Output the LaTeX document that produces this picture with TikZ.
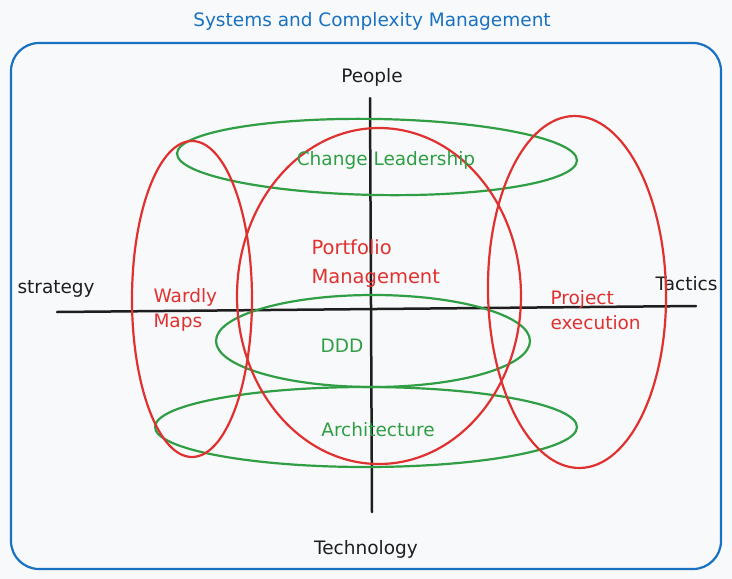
\documentclass[tikz,border=0pt]{standalone}
\usepackage{fontspec}
\setmainfont{DejaVu Sans}
\definecolor{skblue}{HTML}{1971C2}
\definecolor{skgreen}{HTML}{2F9E44}
\definecolor{skred}{HTML}{E03131}
\definecolor{skink}{HTML}{1E1E1E}
\definecolor{skbg}{HTML}{F8F9FA}
\begin{document}
\begin{tikzpicture}[x=1pt, y=-1pt, line join=round, line cap=round,
    font=\fontsize{18.5}{22}\selectfont,
    ring/.style={line width=2.2pt}]
	% Khung
	\fill[skbg] (0,0) rectangle (732,579);
	\useasboundingbox (0,0) rectangle (732,579);
	\draw[skblue, line width=2.2pt, rounded corners=28pt] (11,43) rectangle (721,569);
	\node[text=skblue] (title) at (372,21) {Systems and Complexity Management};
	% Hai trục
	\coordinate (S) at (57,312);
	\coordinate (T) at (696,306);
	\coordinate (P) at (370,98);
	\coordinate (Q) at (372,512);
	\draw[skink, line width=2.5pt] (S)--(T);
	\draw[skink, line width=2.5pt] (P)--(Q);
	\node[text=skink] (people) at (372,77) {People};
	\node[text=skink] (techno) at (366,549) {Technology};
	\node[text=skink, anchor=west] (strat) at (14,289) {strategy};
	\node[text=skink, anchor=east] (tact) at (721,284) {Tactics};
	% Các vòng xanh
	\foreach \cx/\cy/\rx/\ry/\g in {377/157/200/38/-1, 373/341/157/46/0, 366/427/211/40/0}
	\draw[skgreen, ring, rotate around={\g:(\cx,\cy)}] (\cx,\cy) ellipse [x radius=\rx, y radius=\ry];
	% Các vòng đỏ
	\foreach \cx/\cy/\rx/\ry/\g in {192/299/60/158/0, 379/296/142/168/0, 577/292/89/176/1}
	\draw[skred, ring, rotate around={\g:(\cx,\cy)}] (\cx,\cy) ellipse [x radius=\rx, y radius=\ry];
	% Nhãn
	\node[text=skgreen] (lead) at (386,160) {Change Leadership};
	\node[text=skgreen] (ddd) at (342,346) {DDD};
	\node[text=skgreen] (arch) at (378,430) {Architecture};
	\node[text=skred, anchor=west, align=left, font=\fontsize{19.5}{29}\selectfont] (port) at (308,264) {Portfolio\\Management};
	\node[text=skred, anchor=west, align=left, font=\fontsize{18.5}{25}\selectfont] (ward) at (150,310) {Wardly\\Maps};
	\node[text=skred, anchor=west, align=left, font=\fontsize{18.5}{25}\selectfont] (proj) at (547,310) {Project\\execution};
\end{tikzpicture}
\end{document}
